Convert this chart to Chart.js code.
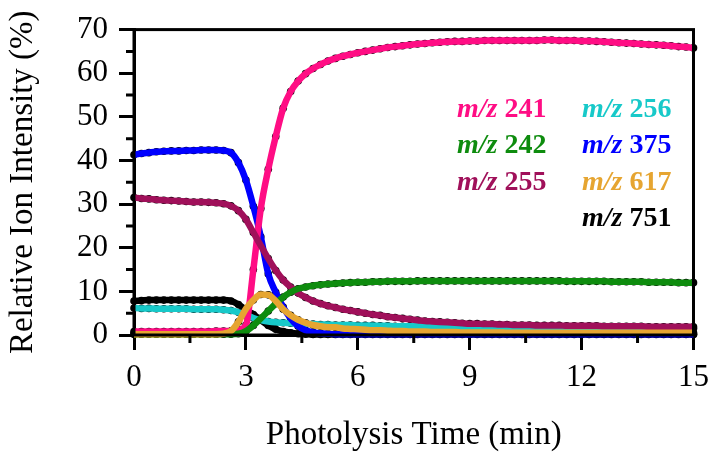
<!DOCTYPE html>
<html>
<head>
<meta charset="utf-8">
<title>Relative Ion Intensity vs Photolysis Time</title>
<script src="https://cdn.jsdelivr.net/npm/chart.js@4/dist/chart.umd.min.js"></script>
<style>
  body { margin: 0; background: #fff; }
  #wrap { width: 718px; height: 462px; }
</style>
</head>
<body>
<div id="wrap"><canvas id="chart" width="718" height="462"></canvas></div>
<script>
"use strict";

// photolysis time (min), one sample every 0.2 min
const times = [0,0.2,0.4,0.6,0.8,1,1.2,1.4,1.6,1.8,2,2.2,2.4,2.6,2.8,3,3.2,3.4,3.6,3.8,
    4,4.2,4.4,4.6,4.8,5,5.2,5.4,5.6,5.8,6,6.2,6.4,6.6,6.8,7,7.2,7.4,7.6,7.8,
    8,8.2,8.4,8.6,8.8,9,9.2,9.4,9.6,9.8,10,10.2,10.4,10.6,10.8,11,11.2,11.4,11.6,11.8,
    12,12.2,12.4,12.6,12.8,13,13.2,13.4,13.6,13.8,14,14.2,14.4,14.6,14.8,15]

const mz241 = [0.8,0.8,0.8,0.8,0.8,0.8,0.8,0.8,0.8,0.8,0.8,0.9,0.9,0.9,1.2,2.2,15,29,38,45.5,
    52,55.8,58.2,59.9,61.1,62.0,62.8,63.4,63.9,64.3,64.7,65.0,65.3,65.6,65.9,66.1,66.3,66.5,66.7,66.8,
    67.0,67.1,67.2,67.3,67.3,67.4,67.4,67.5,67.5,67.5,67.5,67.5,67.5,67.5,67.5,67.6,67.6,67.5,67.5,67.5,
    67.4,67.4,67.3,67.2,67.1,67.0,66.9,66.8,66.7,66.6,66.5,66.4,66.3,66.1,66.0,65.8]

const mz242 = [0.2,0.2,0.2,0.2,0.2,0.2,0.2,0.2,0.2,0.2,0.2,0.2,0.2,0.2,0.3,0.9,2.2,3.8,5.5,7.2,
    8.7,9.8,10.6,11.0,11.3,11.5,11.7,11.8,11.9,12.0,12.1,12.1,12.2,12.2,12.3,12.3,12.3,12.3,12.4,12.4,
    12.4,12.4,12.4,12.4,12.4,12.4,12.4,12.4,12.4,12.4,12.4,12.4,12.4,12.4,12.4,12.4,12.4,12.4,12.3,12.3,
    12.3,12.3,12.3,12.3,12.2,12.2,12.2,12.2,12.2,12.1,12.1,12.1,12.1,12.0,12.0,12.0]

const mz255 = [31.5,31.3,31.2,31.0,30.9,30.8,30.7,30.6,30.5,30.5,30.4,30.3,30.1,29.6,28.5,26.5,23.5,20.5,17.5,14.8,
    12.6,11.0,9.6,8.6,7.8,7.2,6.7,6.3,5.9,5.6,5.3,5.0,4.7,4.5,4.2,4.0,3.8,3.6,3.4,3.2,
    3.1,3.0,2.9,2.8,2.7,2.6,2.6,2.5,2.5,2.4,2.4,2.3,2.3,2.3,2.2,2.2,2.2,2.2,2.1,2.1,
    2.1,2.1,2.1,2.0,2.0,2.0,2.0,2.0,2.0,1.9,1.9,1.9,1.9,1.9,1.9,1.9]

const mz256 = [6.2,6.1,6.1,6.0,6.0,6.0,6.0,6.0,5.9,5.9,5.9,5.9,5.8,5.6,5.2,4.6,3.9,3.4,3.1,2.9,
    2.8,2.7,2.6,2.5,2.5,2.4,2.4,2.3,2.3,2.3,2.2,2.2,2.2,2.1,2.1,2.0,2.0,2.0,2.0,1.9,
    1.9,1.9,1.9,1.9,1.8,1.8,1.8,1.8,1.8,1.8,1.7,1.7,1.7,1.7,1.7,1.7,1.7,1.7,1.6,1.6,
    1.6,1.6,1.6,1.6,1.6,1.6,1.6,1.5,1.5,1.5,1.5,1.5,1.5,1.5,1.5,1.5]

const mz375 = [41.3,41.6,41.8,42.0,42.1,42.2,42.2,42.3,42.3,42.4,42.4,42.4,42.3,41.8,39.5,35.5,29.5,22.5,14.0,9.8,
    6.4,3.8,2.0,1.1,0.6,0.4,0.3,0.2,0.2,0.2,0.2,0.2,0.2,0.2,0.2,0.2,0.2,0.2,0.2,0.2,
    0.2,0.2,0.2,0.2,0.2,0.2,0.2,0.2,0.2,0.2,0.2,0.2,0.2,0.2,0.2,0.2,0.2,0.2,0.2,0.2,
    0.2,0.2,0.2,0.2,0.2,0.2,0.2,0.2,0.2,0.2,0.2,0.2,0.2,0.2,0.2,0.2]

const mz617 = [0.2,0.2,0.2,0.2,0.2,0.2,0.2,0.2,0.2,0.2,0.2,0.2,0.3,0.9,3.0,6.0,8.0,9.3,9.2,7.8,
    5.9,4.5,3.5,2.8,2.3,2.0,1.8,1.8,1.5,1.4,1.3,1.2,1.1,1.1,1.0,0.9,0.9,0.8,0.8,0.8,
    0.7,0.7,0.7,0.7,0.6,0.6,0.6,0.6,0.6,0.6,0.5,0.5,0.5,0.5,0.5,0.5,0.5,0.5,0.5,0.5,
    0.5,0.5,0.5,0.5,0.5,0.5,0.5,0.5,0.5,0.5,0.5,0.5,0.5,0.5,0.5,0.5]

const mz751 = [7.8,7.9,8.0,8.0,8.0,8.0,8.0,8.0,8.0,8.0,8.0,8.0,8.0,7.8,7.0,5.8,4.7,3.4,2.2,1.3,
    0.8,0.5,0.3,0.2,0.1,0.1,0.1,0.1,0.1,0.1,0.1,0.1,0.1,0.1,0.1,0.1,0.1,0.1,0.1,0.1,
    0.1,0.1,0.1,0.1,0.1,0.1,0.1,0.1,0.1,0.1,0.1,0.1,0.1,0.1,0.1,0.1,0.1,0.1,0.1,0.1,
    0.1,0.1,0.1,0.1,0.1,0.1,0.1,0.1,0.1,0.1,0.1,0.1,0.1,0.1,0.1,0.1]

const xTicks = [0, 3, 6, 9, 12, 15]
const xMinorTicks = [1.5, 4.5, 7.5, 10.5, 13.5]
const yMinorTicks = [5, 15, 25, 35, 45, 55, 65]

// label, values, colour, draw order (lower = on top), legend column/row
const series = [
    {label: "241", data: mz241, colour: "#ff0d84", order: 4, col: 0, row: 0},
    {label: "242", data: mz242, colour: "#0e8c0e", order: 2, col: 0, row: 1},
    {label: "255", data: mz255, colour: "#a0105a", order: 3, col: 0, row: 2},
    {label: "256", data: mz256, colour: "#17c9c9", order: 6, col: 1, row: 0},
    {label: "375", data: mz375, colour: "#0000ff", order: 5, col: 1, row: 1},
    {label: "617", data: mz617, colour: "#e6a531", order: 1, col: 1, row: 2},
    {label: "751", data: mz751, colour: "#000000", order: 7, col: 1, row: 3}
]

const serif = "'Liberation Serif', 'Times New Roman', serif"

const points = arr => arr.map((v, i) => ({x: times[i], y: v}))

const datasets = []
series.forEach(s => {
    datasets.push({
        label: "m/z " + s.label,
        data: points(s.data),
        borderColor: s.colour,
        borderWidth: 6.5,
        pointRadius: 0,
        cubicInterpolationMode: "monotone",
        order: s.order,
        clip: 6
    })
    datasets.push({
        label: "m/z " + s.label + " data",
        data: points(s.data),
        showLine: false,
        pointRadius: 3.8,
        pointBackgroundColor: "#000",
        pointBorderWidth: 0,
        order: 20,
        clip: 6
    })
})

const frame = {
    id: "frame",
    afterDraw(chart) {
        const ctx = chart.ctx
        const a = chart.chartArea
        const xs = chart.scales.x
        const ys = chart.scales.y
        ctx.save()
        ctx.strokeStyle = "#000"
        ctx.lineWidth = 3
        ctx.strokeRect(a.left, a.top, a.right - a.left, a.bottom - a.top)
        ctx.beginPath()
        xMinorTicks.forEach(v => {
            const px = xs.getPixelForValue(v)
            ctx.moveTo(px, a.bottom)
            ctx.lineTo(px, a.bottom + 8)
        })
        yMinorTicks.forEach(v => {
            const py = ys.getPixelForValue(v)
            ctx.moveTo(a.left, py)
            ctx.lineTo(a.left - 8, py)
        })
        ctx.stroke()

        // legend written inside the plot
        ctx.textBaseline = "alphabetic"
        series.forEach(s => {
            const x = a.left + 323 + s.col * 125
            const y = a.top + 87 + s.row * 36.5
            ctx.fillStyle = s.colour
            ctx.font = "italic bold 28px " + serif
            ctx.fillText("m/z", x, y)
            const w = ctx.measureText("m/z ").width
            ctx.font = "bold 28px " + serif
            ctx.fillText(s.label, x + w, y)
        })
        ctx.restore()
    }
}

const config = {
    type: "line",
    data: {datasets: datasets},
    plugins: [frame],
    options: {
        responsive: false,
        animation: false,
        layout: {padding: {top: 25, right: 21, left: 0, bottom: 0}},
        plugins: {
            legend: {display: false},
            tooltip: {enabled: false}
        },
        scales: {
            x: {
                type: "linear",
                min: 0,
                max: 15,
                afterBuildTicks: scale => { scale.ticks = xTicks.map(v => ({value: v})) },
                afterFit: scale => { scale.height = 127 },
                ticks: {
                    color: "#000",
                    font: {family: serif, size: 31},
                    padding: 9,
                    maxRotation: 0
                },
                grid: {drawOnChartArea: false, tickLength: 15, tickWidth: 3, tickColor: "#000"},
                border: {display: true, width: 3, color: "#000"},
                title: {
                    display: true,
                    text: "Photolysis Time (min)",
                    color: "#000",
                    font: {family: serif, size: 33},
                    padding: {top: 0, bottom: 7}
                }
            },
            y: {
                type: "linear",
                min: 0,
                max: 70,
                afterFit: scale => { scale.width = 134 },
                ticks: {
                    stepSize: 10,
                    color: "#000",
                    font: {family: serif, size: 31},
                    padding: 11
                },
                grid: {drawOnChartArea: false, tickLength: 15, tickWidth: 3, tickColor: "#000"},
                border: {display: true, width: 3, color: "#000"},
                title: {
                    display: true,
                    text: "Relative Ion Intensity (%)",
                    color: "#000",
                    font: {family: serif, size: 33},
                    padding: {top: 4, bottom: 0}
                }
            }
        }
    }
}

new Chart(document.getElementById("chart"), config)
</script>
</body>
</html>
